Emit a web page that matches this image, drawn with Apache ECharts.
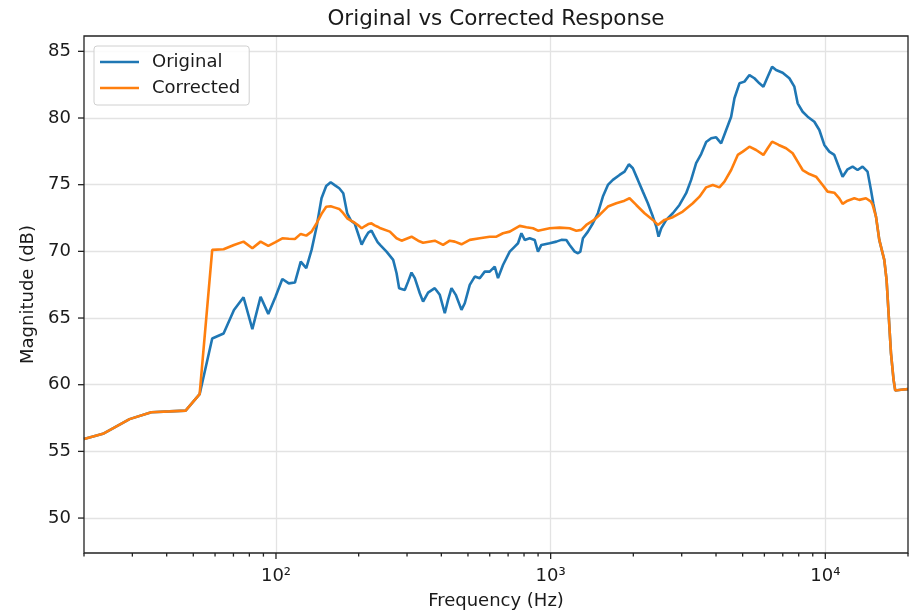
<!DOCTYPE html>
<html>
<head>
<meta charset="utf-8">
<script src="https://cdn.jsdelivr.net/npm/echarts@6/dist/echarts.min.js"></script>
<style>
  html, body { margin: 0; padding: 0; background: #fff; }
  #chart { width: 920px; height: 613px; }
</style>
</head>
<body>
<div id="chart"></div>
<script>
// Frequency response before and after correction (magnitude in dB vs frequency in Hz)

const origFreq = [20, 23.44, 29.30, 35.16, 41.02, 46.88, 52.73, 58.59, 64.45, 70.31, 76.17, 82.03, 87.89, 93.75, 99.61,
  105.47, 111.33, 117.19, 123.05, 128.91, 134.77, 140.63, 146.48, 152.34, 158.20, 164.06, 169.92, 175.78, 181.64,
  187.50, 193.36, 199.22, 205.08, 210.94, 216.80, 222.66, 228.52, 234.38, 240.23, 252.6, 267.1, 274.8, 280.8, 294.4,
  302.7, 311.5, 320.2, 333.9, 343.2, 357.9, 378.6, 394.8, 411.7, 423.2, 435.5, 451.4, 473.5, 486.8, 507.6, 529.3,
  551.9, 575.4, 600.0, 625.7, 643.2, 670.7, 709.5, 739.9, 760.6, 782.7, 804.6, 838.9, 874.7, 899.2, 925.2, 991.7,
  1048.9, 1093.9, 1140.7, 1172.6, 1222.8, 1257.1, 1282.5, 1310.8, 1366.7, 1425.3, 1485.9, 1549.5, 1616, 1684.6,
  1781.9, 1858.2, 1926.2, 1992.1, 2077.3, 2166, 2259.1, 2355.6, 2423.8, 2470.6, 2526.9, 2635, 2784.6, 2944.3,
  3114.3, 3247, 3386, 3531.8, 3683, 3840.7, 4004.6, 4175.9, 4354.9, 4541.3, 4668.8, 4868.5, 5076.2, 5292.6,
  5519.3, 5754.4, 5950.2, 6169.4, 6401.4, 6618.2, 6993.2, 7397.9, 7714.3, 7930.4, 8269.8, 8622.3, 9120.1, 9510.6,
  9917.4, 10339.6, 10782.6, 11244, 11559, 12053, 12569, 13108, 13665, 14249, 14662, 14945, 15293, 15721, 16392,
  16712, 16995, 17339, 17722, 17973, 18855, 20000];

const origDb = [55.92, 56.32, 57.42, 57.94, 58.0, 58.06, 59.29, 63.47, 63.84, 65.6, 66.56, 64.17, 66.6, 65.31, 66.6,
  67.93, 67.6, 67.66, 69.23, 68.74, 70.11, 71.86, 73.98, 74.9, 75.18, 74.95, 74.73, 74.36, 72.86,
  72.3, 72.1, 71.3, 70.5, 71.0, 71.4, 71.55, 71.1, 70.7, 70.45, 69.98, 69.36, 68.36, 67.24, 67.11,
  67.73, 68.41, 67.99, 66.86, 66.23, 66.91, 67.24, 66.74, 65.36, 66.36, 67.24, 66.74, 65.61, 66.11, 67.49, 68.11,
  67.99, 68.48, 68.48, 68.86, 67.99, 68.98, 69.98, 70.36, 70.61, 71.36, 70.86, 70.98, 70.86, 69.98, 70.48, 70.61,
  70.73, 70.86, 70.85, 70.48, 69.98, 69.86, 69.98, 70.98, 71.48, 72.11, 72.86, 74.11, 74.98, 75.36,
  75.73, 75.98, 76.53, 76.23, 75.36, 74.48, 73.61, 72.61, 71.86, 71.1, 71.73, 72.36, 72.86, 73.48,
  74.36, 75.36, 76.61, 77.3, 78.2, 78.48, 78.55, 78.1, 79.1, 80.1, 81.48, 82.6, 82.73, 83.22,
  82.98, 82.6, 82.35, 83.1, 83.85, 83.6, 83.4, 82.98, 82.35, 81.1, 80.47, 80.1, 79.72, 79.1,
  77.98, 77.48, 77.23, 76.23, 75.6, 76.15, 76.35, 76.1, 76.35, 75.98, 74.6, 73.61, 72.6, 70.86, 69.36,
  67.86, 65.36, 62.37, 60.37, 59.56, 59.62, 59.67];

const corrFreq = [20, 23.44, 29.30, 35.16, 41.02, 46.88, 52.73, 58.59, 64.45, 70.31, 76.17, 82.03, 87.89, 93.75, 99.61,
  105.47, 111.33, 117.19, 123.05, 128.91, 134.77, 140.63, 146.48, 152.34, 158.20, 164.06, 169.92, 175.78, 181.64,
  187.50, 193.36, 199.22, 205.08, 210.94, 216.80, 222.66, 228.52, 234.38, 240.23, 259.8, 274.8, 286.5, 311.5, 329.3,
  343.2, 378.6, 405.9, 429.4, 447.7, 473.5, 507.6, 551.9, 600.0, 634.6, 670.7, 709.5, 771.6, 815.9, 862.3, 899.2,
  991.7, 1078.2, 1172.6, 1240.3, 1293.2, 1348.4, 1425.3, 1507.3, 1616, 1733.6, 1858.2, 1937.7, 2049.2, 2197.2,
  2355.6, 2456.4, 2597.4, 2784.6, 3026.9, 3293.2, 3482.8, 3683, 3892.3, 4116, 4293, 4541.3, 4799.5, 5005, 5292.6,
  5597.6, 5950.2, 6169.4, 6401.4, 6764.7, 7196.3, 7604.9, 7930.4, 8269.8, 8747, 9251.2, 9776.9, 10195, 10782.6,
  11244, 11559, 12053, 12752, 13293, 14060, 14662, 14859, 15293, 15721, 16392, 16712, 16995, 17339, 17722, 17973,
  18855, 20000];

const corrDb = [55.92, 56.32, 57.42, 57.94, 58.0, 58.06, 59.29, 70.11, 70.16, 70.48, 70.73, 70.23, 70.73, 70.41, 70.7,
  70.98, 70.95, 70.93, 71.31, 71.18, 71.48, 72.11, 72.81, 73.35, 73.38, 73.28, 73.18, 72.86, 72.48,
  72.3, 72.15, 71.95, 71.73, 71.9, 72.05, 72.1, 71.95, 71.85, 71.73, 71.48, 70.98, 70.8, 71.1, 70.8,
  70.65, 70.8, 70.48, 70.8, 70.73, 70.53, 70.86, 70.98, 71.1, 71.1, 71.36, 71.48, 71.91, 71.81, 71.73, 71.55,
  71.73, 71.78, 71.73, 71.55, 71.61, 71.98, 72.3, 72.73, 73.36, 73.61, 73.8, 73.98, 73.48, 72.86,
  72.36, 71.98, 72.36, 72.56, 72.98, 73.61, 74.1, 74.8, 74.98, 74.8, 75.23, 76.1, 77.23, 77.48, 77.85,
  77.6, 77.23, 77.73, 78.23, 77.98, 77.73, 77.36, 76.73, 76.1, 75.8, 75.6, 74.98, 74.48, 74.4,
  73.98, 73.56, 73.8, 73.98, 73.86, 73.98, 73.73, 73.5, 72.6, 70.86, 69.36, 67.86, 65.36, 62.37, 60.37, 59.56,
  59.62, 59.67];

// Axis ticks
const xMajorTicks = [100, 1000, 10000];
const xMinorTicks = [20, 30, 40, 50, 60, 70, 80, 90, 200, 300, 400, 500, 600, 700, 800, 900,
  2000, 3000, 4000, 5000, 6000, 7000, 8000, 9000, 20000];
const yTicks = [50, 55, 60, 65, 70, 75, 80, 85];

// Axis limits
const F_MIN = 20, F_MAX = 20000;
const DB_MIN = 47.38, DB_MAX = 86.15;

const FONT = '"DejaVu Sans", sans-serif';
const INK = '#1a1a1a';
const SUP = { '0': '\u2070', '1': '\u00b9', '2': '\u00b2', '3': '\u00b3', '4': '\u2074', '5': '\u2075',
  '6': '\u2076', '7': '\u2077', '8': '\u2078', '9': '\u2079' };

function pairs(xs, ys) { return xs.map((x, i) => [x, ys[i]]); }

function decadeLabel(v) {
  const e = Math.round(Math.log10(v));
  if (Math.abs(Math.pow(10, e) - v) > 1e-6 * v) return '';
  return '10' + String(e).split('').map(c => SUP[c]).join('');
}

const chart = echarts.init(document.getElementById('chart'), null, { renderer: 'canvas' });

chart.setOption({
  animation: false,
  backgroundColor: '#ffffff',
  textStyle: { fontFamily: FONT },
  title: {
    text: 'Original vs Corrected Response',
    left: 496,
    top: 8,
    textAlign: 'center',
    padding: 0,
    textStyle: { fontFamily: FONT, fontSize: 21.5, fontWeight: 'normal', color: INK }
  },
  legend: {
    data: ['Original', 'Corrected'],
    orient: 'vertical',
    left: 94,
    top: 46,
    padding: [7, 9, 8, 6],
    itemGap: 8,
    itemWidth: 39,
    itemHeight: 2.6,
    icon: 'rect',
    borderColor: '#d0d0d0',
    borderWidth: 1,
    borderRadius: 3,
    backgroundColor: 'rgba(255,255,255,0.85)',
    textStyle: { fontFamily: FONT, fontSize: 18, color: INK, padding: [0, 0, 0, 8] }
  },
  grid: {
    left: 84, right: 12, top: 36, bottom: 60,
    outerBoundsMode: 'none',
    containLabel: false,
    show: true,
    z: 5,
    backgroundColor: 'transparent',
    borderColor: '#222',
    borderWidth: 1.3
  },
  xAxis: {
    type: 'log',
    logBase: 10,
    min: F_MIN,
    max: F_MAX,
    name: 'Frequency (Hz)',
    nameLocation: 'middle',
    nameGap: 39,
    nameTextStyle: { fontFamily: FONT, fontSize: 18, color: INK },
    axisLine: { show: false },
    axisTick: { show: false },
    axisLabel: {
      margin: 14,
      fontFamily: FONT,
      fontSize: 18,
      color: INK,
      formatter: decadeLabel
    },
    splitLine: {
      show: true, showMinLine: false, showMaxLine: false,
      lineStyle: { color: '#e3e3e3', width: 1.3 }
    }
  },
  yAxis: {
    type: 'value',
    min: DB_MIN,
    max: DB_MAX,
    splitNumber: 8,
    name: 'Magnitude (dB)',
    nameLocation: 'middle',
    nameGap: 40,
    nameTextStyle: { fontFamily: FONT, fontSize: 18, color: INK },
    axisLine: { show: false },
    axisTick: { show: false },
    axisLabel: {
      margin: 13,
      fontFamily: FONT,
      fontSize: 18,
      color: INK,
      formatter: v => (Math.abs(v / 5 - Math.round(v / 5)) < 1e-6 ? String(Math.round(v)) : '')
    },
    splitLine: {
      show: true, showMinLine: false, showMaxLine: false,
      lineStyle: { color: '#e3e3e3', width: 1.3 }
    }
  },
  series: [
    {
      name: 'Original',
      type: 'line',
      data: pairs(origFreq, origDb),
      symbol: 'none',
      color: '#1f77b4',
      lineStyle: { color: '#1f77b4', width: 2.6 },
      z: 2
    },
    {
      name: 'Corrected',
      type: 'line',
      data: pairs(corrFreq, corrDb),
      symbol: 'none',
      color: '#ff7f0e',
      lineStyle: { color: '#ff7f0e', width: 2.6 },
      z: 3
    },
    {
      // frequency axis tick marks (decades long, intermediate short)
      name: 'xTicks',
      type: 'custom',
      silent: true,
      clip: false,
      z: 6,
      data: xMajorTicks.map(v => [v, 0]).concat(xMinorTicks.map(v => [v, 1])),
      encode: { x: 0, y: 1 },
      renderItem: function (params, api) {
        const p = api.coord([api.value(0), DB_MIN]);
        const len = api.value(1) ? 3.6 : 6;
        return {
          type: 'line',
          shape: { x1: p[0], y1: p[1], x2: p[0], y2: p[1] + len },
          style: { stroke: '#222', lineWidth: 1.3 }
        };
      }
    },
    {
      // magnitude axis tick marks
      name: 'yTicks',
      type: 'custom',
      silent: true,
      clip: false,
      z: 6,
      data: yTicks.map(v => [F_MIN, v]),
      encode: { x: 0, y: 1 },
      renderItem: function (params, api) {
        const p = api.coord([F_MIN, api.value(1)]);
        return {
          type: 'line',
          shape: { x1: p[0] - 6, y1: p[1], x2: p[0], y2: p[1] },
          style: { stroke: '#222', lineWidth: 1.3 }
        };
      }
    }
  ]
});
</script>
</body>
</html>
